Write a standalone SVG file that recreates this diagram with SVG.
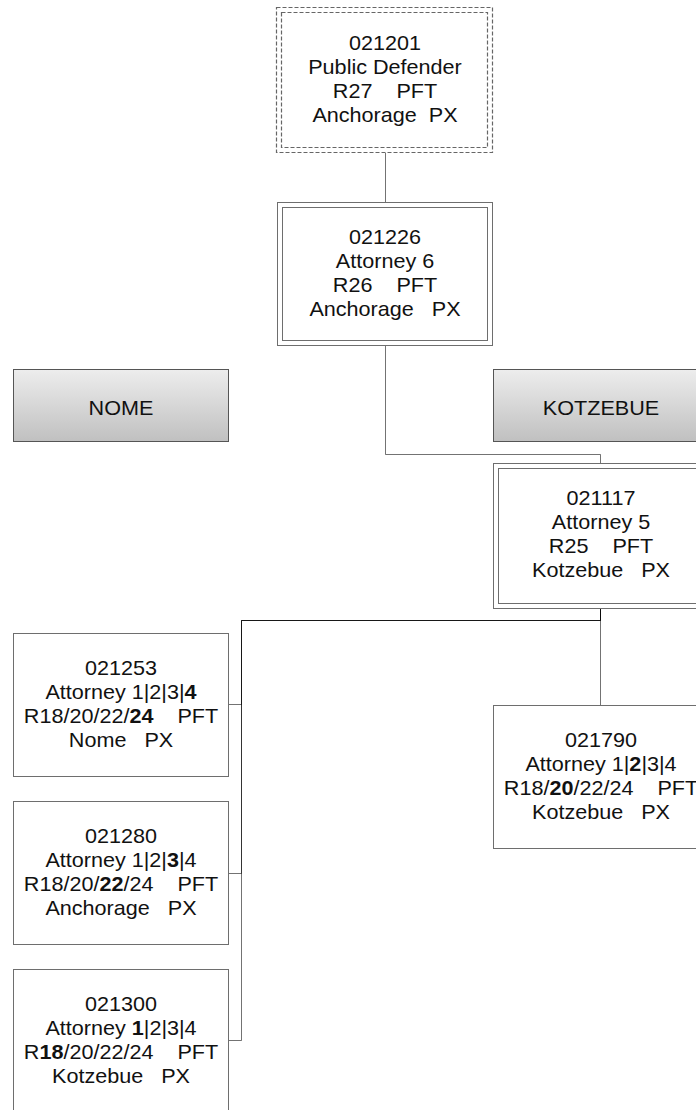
<svg xmlns="http://www.w3.org/2000/svg" width="696" height="1110" viewBox="0 0 696 1110">
<style>
.box{fill:#fff;stroke:#6e6e6e;stroke-width:1}
.dash{fill:none;stroke:#666;stroke-width:1.2;stroke-dasharray:4 2}
.region{fill:url(#grad);stroke:#555;stroke-width:1}
.t{font-family:"Liberation Sans",Arial,sans-serif;font-size:20px;fill:#111;text-anchor:middle;white-space:pre}
.b{font-weight:bold}
.conn{fill:none;stroke:#000;stroke-opacity:0.55;stroke-width:1}
</style>
<defs>
<linearGradient id="grad" x1="0" y1="0" x2="0" y2="1">
<stop offset="0" stop-color="#ededed"/>
<stop offset="1" stop-color="#c0c0c0"/>
</linearGradient>
</defs>
<rect width="696" height="1110" fill="#fff"/>
<g id="connectors">
<path class="conn" d="M385.5 153V202"/>
<path class="conn" d="M385.5 345V454.5H600.5V463"/>
<path class="conn" d="M600.5 608V620.5H241.5V704.5H229"/>
<path class="conn" d="M600.5 608V620.5H241.5V873.5H229"/>
<path class="conn" d="M600.5 608V620.5H241.5V1040.5H229"/>
<path class="conn" d="M600.5 608V705"/>
</g>
<g id="n021201">
<rect x="276.5" y="7.5" width="216" height="145" fill="#fff" class="dash"/>
<rect x="281.5" y="12.5" width="206" height="135" class="dash"/>
<g transform="translate(385 0) scale(1.08 1)">
<text class="t" x="0" y="50">021201</text>
<text class="t" x="0" y="74">Public Defender</text>
<text class="t" x="0" y="98">R27    PFT</text>
<text class="t" x="0" y="122">Anchorage  PX</text>
</g>
</g>
<g id="n021226">
<rect class="box" x="277.5" y="202.5" width="215" height="143"/>
<rect class="box" x="282.5" y="207.5" width="205" height="133"/>
<g transform="translate(385 0) scale(1.08 1)">
<text class="t" x="0" y="244">021226</text>
<text class="t" x="0" y="268">Attorney 6</text>
<text class="t" x="0" y="292">R26    PFT</text>
<text class="t" x="0" y="316">Anchorage   PX</text>
</g>
</g>
<g id="nome">
<rect class="region" x="13.5" y="369.5" width="215" height="72"/>
<g transform="translate(121 0) scale(1.08 1)">
<text class="t" x="0" y="415">NOME</text>
</g>
</g>
<g id="kotzebue">
<rect class="region" x="493.5" y="369.5" width="215" height="72"/>
<g transform="translate(601 0) scale(1.08 1)">
<text class="t" x="0" y="415">KOTZEBUE</text>
</g>
</g>
<g id="n021117">
<rect class="box" x="493.5" y="463.5" width="215" height="145"/>
<rect class="box" x="498.5" y="468.5" width="205" height="135"/>
<g transform="translate(601 0) scale(1.08 1)">
<text class="t" x="0" y="505">021117</text>
<text class="t" x="0" y="529">Attorney 5</text>
<text class="t" x="0" y="553">R25    PFT</text>
<text class="t" x="0" y="577">Kotzebue   PX</text>
</g>
</g>
<g id="n021253">
<rect class="box" x="13.5" y="633.5" width="215" height="143"/>
<g transform="translate(121 0) scale(1.08 1)">
<text class="t" x="0" y="675">021253</text>
<text class="t" x="0" y="699">Attorney 1|2|3|<tspan class="b">4</tspan></text>
<text class="t" x="0" y="723">R18/20/22/<tspan class="b">24</tspan>    PFT</text>
<text class="t" x="0" y="747">Nome   PX</text>
</g>
</g>
<g id="n021280">
<rect class="box" x="13.5" y="801.5" width="215" height="143"/>
<g transform="translate(121 0) scale(1.08 1)">
<text class="t" x="0" y="843">021280</text>
<text class="t" x="0" y="867">Attorney 1|2|<tspan class="b">3</tspan>|4</text>
<text class="t" x="0" y="891">R18/20/<tspan class="b">22</tspan>/24    PFT</text>
<text class="t" x="0" y="915">Anchorage   PX</text>
</g>
</g>
<g id="n021300">
<rect class="box" x="13.5" y="969.5" width="215" height="143"/>
<g transform="translate(121 0) scale(1.08 1)">
<text class="t" x="0" y="1011">021300</text>
<text class="t" x="0" y="1035">Attorney <tspan class="b">1</tspan>|2|3|4</text>
<text class="t" x="0" y="1059">R<tspan class="b">18</tspan>/20/22/24    PFT</text>
<text class="t" x="0" y="1083">Kotzebue   PX</text>
</g>
</g>
<g id="n021790">
<rect class="box" x="493.5" y="705.5" width="215" height="143"/>
<g transform="translate(601 0) scale(1.08 1)">
<text class="t" x="0" y="747">021790</text>
<text class="t" x="0" y="771">Attorney 1|<tspan class="b">2</tspan>|3|4</text>
<text class="t" x="0" y="795">R18/<tspan class="b">20</tspan>/22/24    PFT</text>
<text class="t" x="0" y="819">Kotzebue   PX</text>
</g>
</g>
</svg>
